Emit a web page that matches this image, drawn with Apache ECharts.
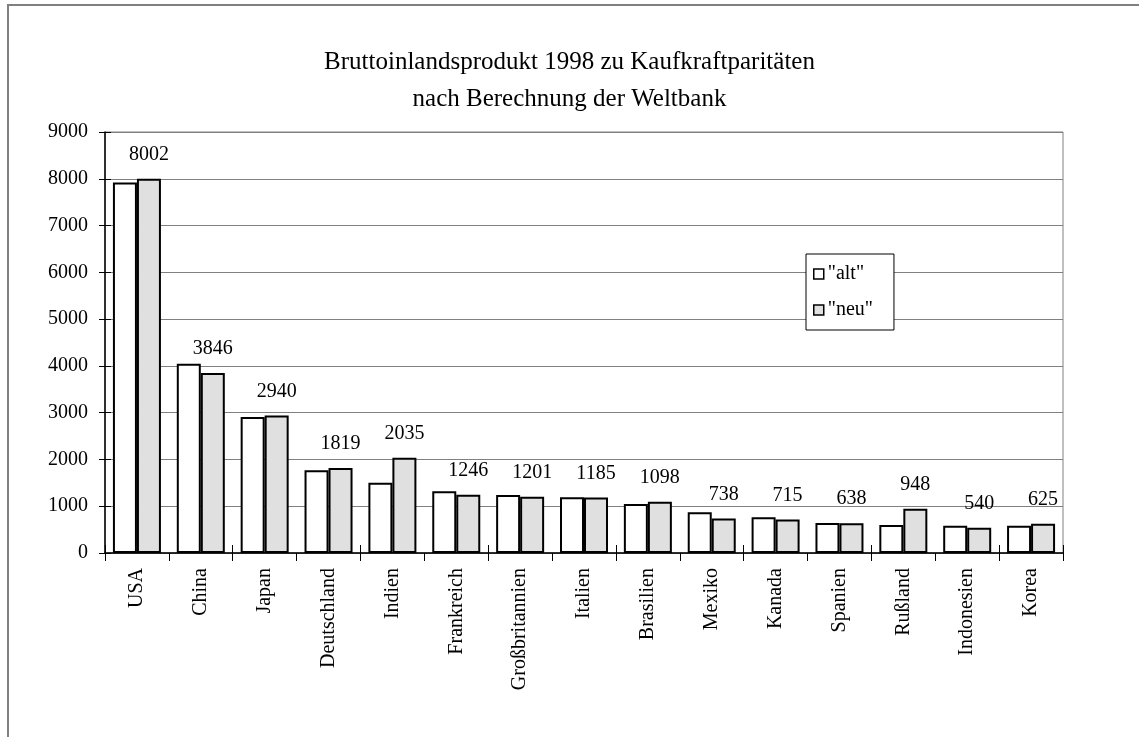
<!DOCTYPE html>
<html>
<head>
<meta charset="utf-8">
<script src="https://cdn.jsdelivr.net/npm/echarts@6/dist/echarts.min.js"></script>
<style>
html,body{margin:0;padding:0;background:#fff;}
#chart{width:1139px;height:737px;}
</style>
</head>
<body>
<div id="chart"></div>
<script>
const titleLines = ['Bruttoinlandsprodukt 1998 zu Kaufkraftparitäten', 'nach Berechnung der Weltbank'];
const categories = ['USA','China','Japan','Deutschland','Indien','Frankreich','Großbritannien','Italien','Brasilien','Mexiko','Kanada','Spanien','Rußland','Indonesien','Korea'];
const seriesNames = ['"alt"', '"neu"'];
const altValues = [7920, 4045, 2905, 1770, 1500, 1320, 1240, 1190, 1050, 870, 765, 640, 600, 585, 585];
const neuValues = [8002, 3846, 2940, 1819, 2035, 1246, 1201, 1185, 1098, 738, 715, 638, 948, 540, 625];
const yMin = 0, yMax = 9000, yStep = 1000;

const FONT = '"Liberation Serif", "Times New Roman", serif';
const chart = echarts.init(document.getElementById('chart'));

const baseY = {
  type: 'value', min: yMin, max: yMax, interval: yStep
};

chart.setOption({
  animation: false,
  backgroundColor: '#fff',
  textStyle: { fontFamily: FONT, color: '#000' },
  title: {
    text: titleLines.join('\n'),
    left: 'center',
    top: 39,
    textStyle: { fontFamily: FONT, fontSize: 25, fontWeight: 'normal', color: '#000', lineHeight: 37 }
  },
  graphic: [{
    type: 'rect',
    shape: { x: 8, y: 5, width: 1200, height: 800 },
    style: { fill: 'none', stroke: '#808080', lineWidth: 2 },
    silent: true, z: -1
  }],
  legend: {
    orient: 'vertical',
    left: 806,
    top: 254,
    itemWidth: 10,
    itemHeight: 10,
    itemGap: 16,
    padding: [10, 21, 10, 7],
    backgroundColor: '#fff',
    borderColor: '#000',
    borderWidth: 1,
    borderRadius: 0,
    icon: 'rect',
    textStyle: { fontFamily: FONT, fontSize: 20, color: '#000', padding: [0, 0, 0, -1] },
    data: seriesNames.map(n => ({ name: n, itemStyle: { borderColor: '#000', borderWidth: 1.5 } }))
  },
  grid: {
    left: 105, right: 76, top: 132, bottom: 184,
    show: true, borderColor: '#808080', borderWidth: 1
  },
  xAxis: [{
    type: 'category',
    data: categories,
    axisLine: { lineStyle: { color: '#000', width: 1.5 } },
    axisTick: { show: true, length: 8, lineStyle: { color: '#000' } },
    axisLabel: { rotate: 90, margin: 15, fontFamily: FONT, fontSize: 20, color: '#000', interval: 0 }
  }, {
    type: 'category',
    data: categories,
    position: 'bottom',
    axisLine: { show: false },
    axisTick: { show: true, inside: true, length: 8, lineStyle: { color: '#000' } },
    axisLabel: { show: false }
  }],
  yAxis: [Object.assign({}, baseY, {
    axisLine: { show: true, lineStyle: { color: '#000', width: 1.5 } },
    axisTick: { show: true, length: 6, lineStyle: { color: '#000' } },
    axisLabel: { margin: 17, fontFamily: FONT, fontSize: 20, color: '#000', formatter: v => String(v) },
    splitLine: { show: true, lineStyle: { color: '#808080', width: 1 } }
  }), Object.assign({}, baseY, {
    position: 'left',
    axisLine: { show: false },
    axisTick: { show: true, inside: true, length: 6, lineStyle: { color: '#000' } },
    axisLabel: { show: false },
    splitLine: { show: false }
  })],
  series: [{
    name: seriesNames[0],
    type: 'bar',
    data: altValues,
    barWidth: 24,
    barGap: '0%',
    itemStyle: { color: '#ffffff', borderColor: '#000', borderWidth: 2 }
  }, {
    name: seriesNames[1],
    type: 'bar',
    data: neuValues,
    barWidth: 24,
    barGap: '0%',
    itemStyle: { color: '#e0e0e0', borderColor: '#000', borderWidth: 2 },
    label: { show: true, position: 'top', distance: 14, fontFamily: FONT, fontSize: 20, color: '#000' }
  }]
});
</script>
</body>
</html>
